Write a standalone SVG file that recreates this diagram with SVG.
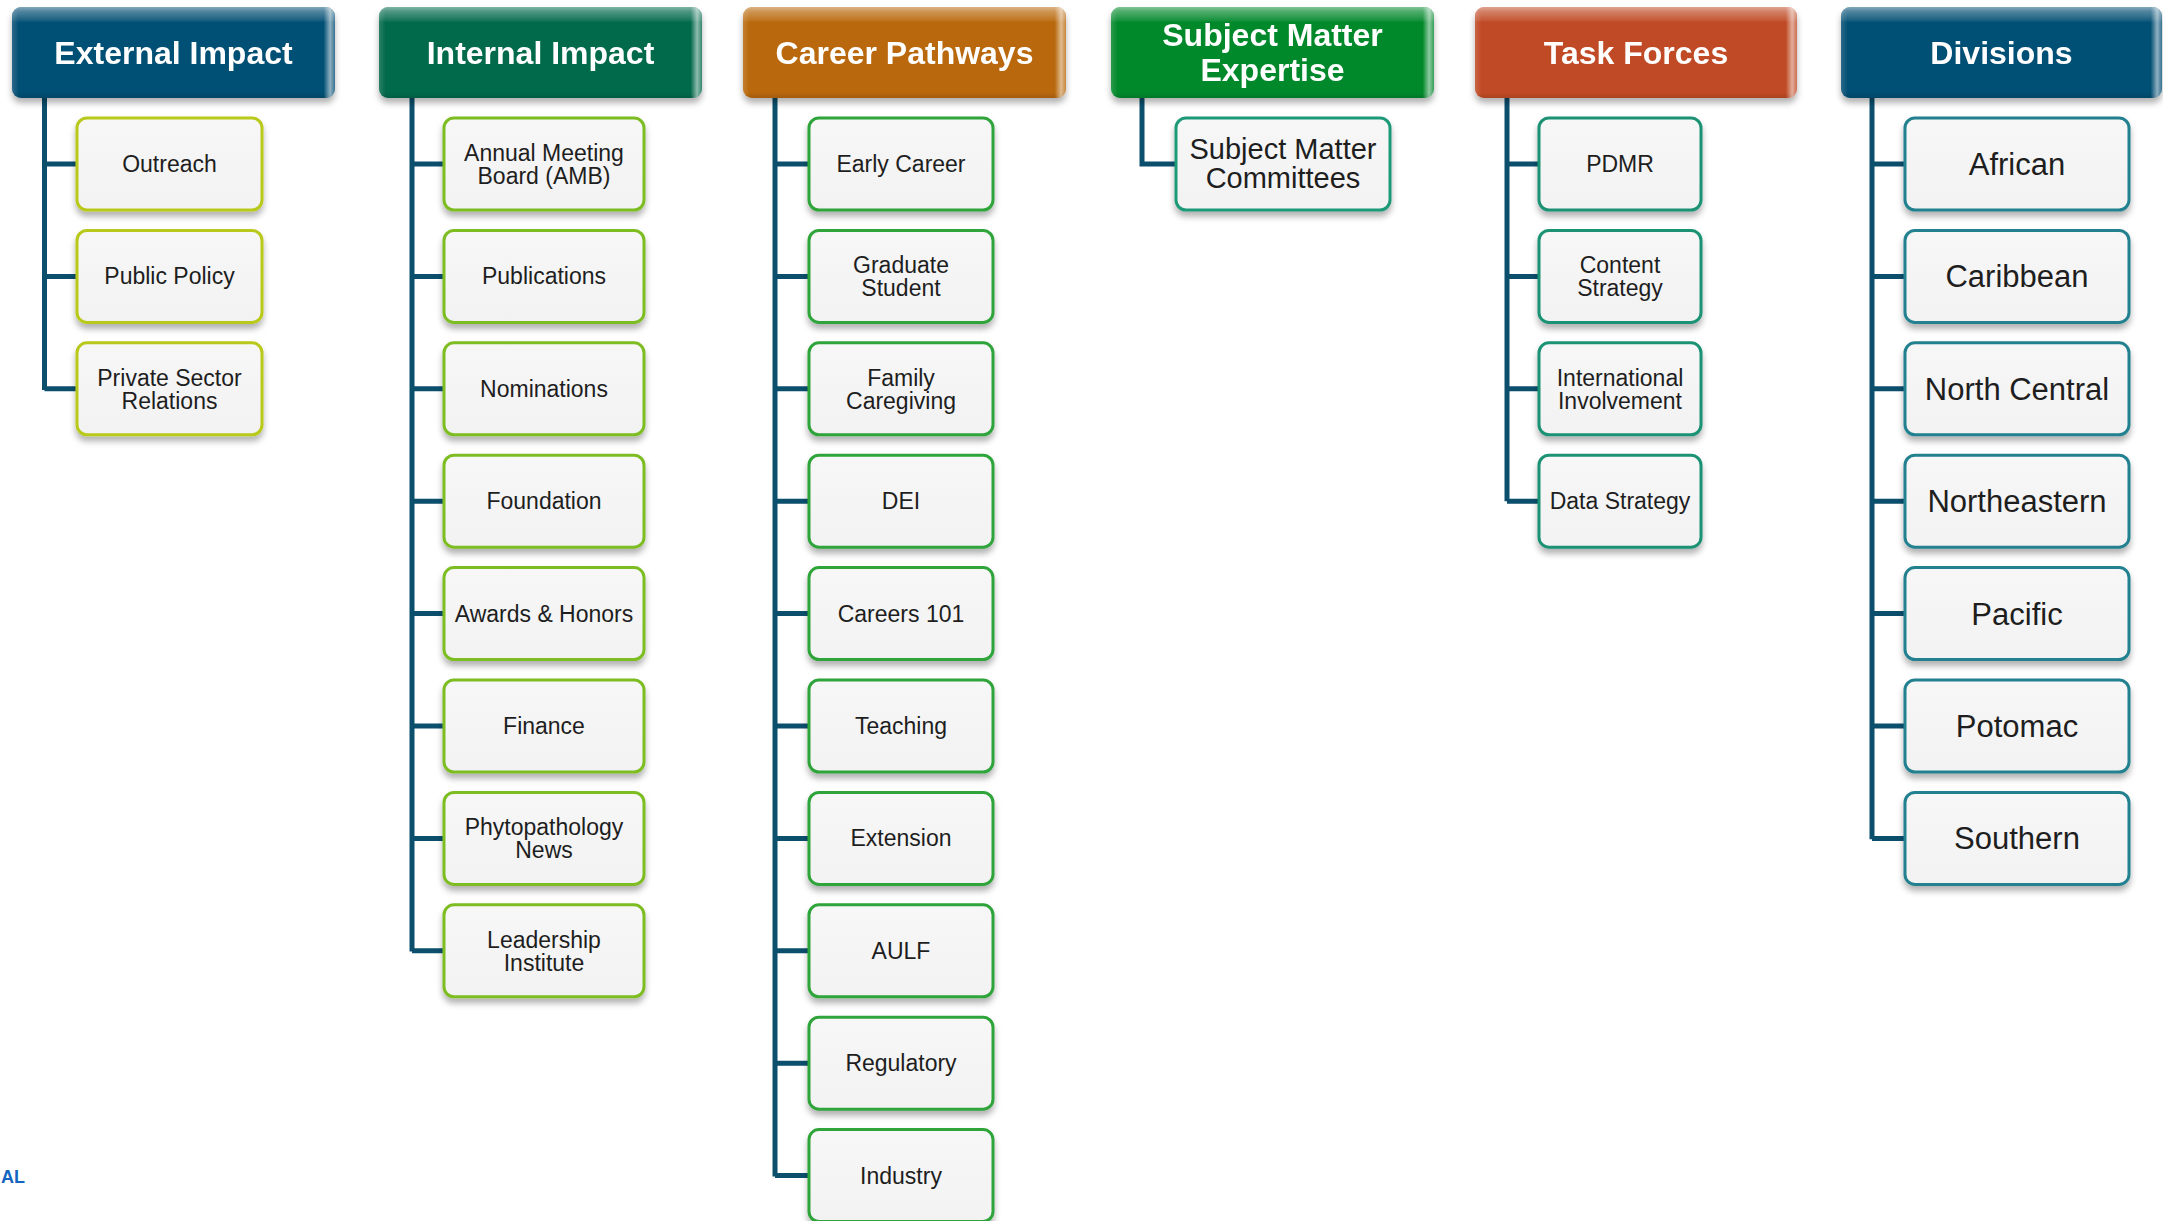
<svg xmlns="http://www.w3.org/2000/svg" width="2163" height="1221" viewBox="0 0 2163 1221">
<defs>
<filter id="sh" x="-10%" y="-10%" width="120%" height="130%">
<feDropShadow dx="0" dy="5" stdDeviation="3" flood-color="#000" flood-opacity="0.3"/>
</filter>
<linearGradient id="glossV" x1="0" y1="0" x2="0" y2="1">
<stop offset="0" stop-color="#fff" stop-opacity="0.5"/>
<stop offset="0.05" stop-color="#fff" stop-opacity="0.3"/>
<stop offset="0.14" stop-color="#fff" stop-opacity="0.1"/>
<stop offset="0.17" stop-color="#fff" stop-opacity="0"/>
<stop offset="0.94" stop-color="#000" stop-opacity="0"/>
<stop offset="1" stop-color="#000" stop-opacity="0.12"/>
</linearGradient>
<linearGradient id="glossH" x1="0" y1="0" x2="1" y2="0">
<stop offset="0" stop-color="#fff" stop-opacity="0.15"/>
<stop offset="0.02" stop-color="#fff" stop-opacity="0"/>
<stop offset="0.965" stop-color="#fff" stop-opacity="0"/>
<stop offset="0.985" stop-color="#fff" stop-opacity="0.55"/>
<stop offset="1" stop-color="#fff" stop-opacity="0.2"/>
</linearGradient>
<linearGradient id="boxFill" x1="0" y1="0" x2="0" y2="1">
<stop offset="0" stop-color="#f7f7f7"/>
<stop offset="1" stop-color="#f2f2f2"/>
</linearGradient>
</defs>
<style>
.hdr{filter:url(#sh)}
.gv{fill:url(#glossV)}
.gh{fill:url(#glossH)}
.ht{font-family:"Liberation Sans",Arial,sans-serif;font-weight:bold;font-size:32px;fill:#fff;text-anchor:middle}
.box{fill:url(#boxFill);stroke-width:3;filter:url(#sh)}
.bt{font-family:"Liberation Sans",Arial,sans-serif;font-size:23px;fill:#1e1e1e;text-anchor:middle}
.bt31{font-size:31px}
.bt29{font-size:29px}
.c1{stroke:#b9c91b}
.c2{stroke:#7dbd24}
.c3{stroke:#2ea43a}
.c4{stroke:#1f9a78}
.c5{stroke:#1c9275}
.c6{stroke:#21808f}
.conn{fill:none;stroke:#0b4f6d;stroke-width:5;stroke-linejoin:miter}
.note{font-family:"Liberation Sans",Arial,sans-serif;font-size:18px;fill:#1565c0;font-weight:bold}
</style>
<rect width="2163" height="1221" fill="#fff"/>

<g id="connectors">
<path class="conn" d="M44.5 98 V390 M44.5 164 H77 M44.5 276.4 H77 M44.5 388.8 H77"/>
<path class="conn" d="M412 98 V951.6 M412 164 H444 M412 276.4 H444 M412 388.8 H444 M412 501.2 H444 M412 613.6 H444 M412 726 H444 M412 838.4 H444 M412 950.8 H444"/>
<path class="conn" d="M775 98 V1176.4 M775 164 H809 M775 276.4 H809 M775 388.8 H809 M775 501.2 H809 M775 613.6 H809 M775 726 H809 M775 838.4 H809 M775 950.8 H809 M775 1063.2 H809 M775 1175.6 H809"/>
<path class="conn" d="M1142 98 V164 H1176"/>
<path class="conn" d="M1507 98 V501.2 M1507 164 H1539 M1507 276.4 H1539 M1507 388.8 H1539 M1507 501.2 H1539"/>
<path class="conn" d="M1872 98 V839.2 M1872 164 H1905 M1872 276.4 H1905 M1872 388.8 H1905 M1872 501.2 H1905 M1872 613.6 H1905 M1872 726 H1905 M1872 838.4 H1905"/>
</g>

<g id="h-external" class="hdr">
<rect x="12" y="7" width="323" height="91" rx="9" fill="#055075"/>
<rect class="gv" x="12" y="7" width="323" height="91" rx="9"/>
<rect class="gh" x="12" y="7" width="323" height="91" rx="9"/>
<text class="ht" x="173.5" y="64">External Impact</text>
</g>
<g id="h-internal" class="hdr">
<rect x="379" y="7" width="323" height="91" rx="9" fill="#036a4b"/>
<rect class="gv" x="379" y="7" width="323" height="91" rx="9"/>
<rect class="gh" x="379" y="7" width="323" height="91" rx="9"/>
<text class="ht" x="540.5" y="64">Internal Impact</text>
</g>
<g id="h-career" class="hdr">
<rect x="743" y="7" width="323" height="91" rx="9" fill="#b9680a"/>
<rect class="gv" x="743" y="7" width="323" height="91" rx="9"/>
<rect class="gh" x="743" y="7" width="323" height="91" rx="9"/>
<text class="ht" x="904.5" y="64">Career Pathways</text>
</g>
<g id="h-sme" class="hdr">
<rect x="1111" y="7" width="323" height="91" rx="9" fill="#03892c"/>
<rect class="gv" x="1111" y="7" width="323" height="91" rx="9"/>
<rect class="gh" x="1111" y="7" width="323" height="91" rx="9"/>
<text class="ht" x="1272.5" y="46">Subject Matter</text>
<text class="ht" x="1272.5" y="81">Expertise</text>
</g>
<g id="h-task" class="hdr">
<rect x="1475" y="7" width="322" height="91" rx="9" fill="#c04a25"/>
<rect class="gv" x="1475" y="7" width="322" height="91" rx="9"/>
<rect class="gh" x="1475" y="7" width="322" height="91" rx="9"/>
<text class="ht" x="1636" y="64">Task Forces</text>
</g>
<g id="h-divisions" class="hdr">
<rect x="1841" y="7" width="321" height="91" rx="9" fill="#055075"/>
<rect class="gv" x="1841" y="7" width="321" height="91" rx="9"/>
<rect class="gh" x="1841" y="7" width="321" height="91" rx="9"/>
<text class="ht" x="2001.5" y="64">Divisions</text>
</g>

<g id="n-outreach"><rect class="box c1" x="77" y="118" width="185" height="92" rx="10"/><text class="bt" x="169.5" y="172">Outreach</text></g>
<g id="n-publicpolicy"><rect class="box c1" x="77" y="230.4" width="185" height="92" rx="10"/><text class="bt" x="169.5" y="284.4">Public Policy</text></g>
<g id="n-privatesector"><rect class="box c1" x="77" y="342.8" width="185" height="92" rx="10"/><text class="bt" x="169.5" y="385.8">Private Sector</text><text class="bt" x="169.5" y="408.8">Relations</text></g>

<g id="n-amb"><rect class="box c2" x="444" y="118" width="200" height="92" rx="10"/><text class="bt" x="544" y="161">Annual Meeting</text><text class="bt" x="544" y="184">Board (AMB)</text></g>
<g id="n-publications"><rect class="box c2" x="444" y="230.4" width="200" height="92" rx="10"/><text class="bt" x="544" y="284.4">Publications</text></g>
<g id="n-nominations"><rect class="box c2" x="444" y="342.8" width="200" height="92" rx="10"/><text class="bt" x="544" y="396.8">Nominations</text></g>
<g id="n-foundation"><rect class="box c2" x="444" y="455.2" width="200" height="92" rx="10"/><text class="bt" x="544" y="509.2">Foundation</text></g>
<g id="n-awards"><rect class="box c2" x="444" y="567.6" width="200" height="92" rx="10"/><text class="bt" x="544" y="621.6">Awards &amp; Honors</text></g>
<g id="n-finance"><rect class="box c2" x="444" y="680" width="200" height="92" rx="10"/><text class="bt" x="544" y="734">Finance</text></g>
<g id="n-phytonews"><rect class="box c2" x="444" y="792.4" width="200" height="92" rx="10"/><text class="bt" x="544" y="835.4">Phytopathology</text><text class="bt" x="544" y="858.4">News</text></g>
<g id="n-leadership"><rect class="box c2" x="444" y="904.8" width="200" height="92" rx="10"/><text class="bt" x="544" y="947.8">Leadership</text><text class="bt" x="544" y="970.8">Institute</text></g>

<g id="n-earlycareer"><rect class="box c3" x="809" y="118" width="184" height="92" rx="10"/><text class="bt" x="901" y="172">Early Career</text></g>
<g id="n-graduate"><rect class="box c3" x="809" y="230.4" width="184" height="92" rx="10"/><text class="bt" x="901" y="273.4">Graduate</text><text class="bt" x="901" y="296.4">Student</text></g>
<g id="n-family"><rect class="box c3" x="809" y="342.8" width="184" height="92" rx="10"/><text class="bt" x="901" y="385.8">Family</text><text class="bt" x="901" y="408.8">Caregiving</text></g>
<g id="n-dei"><rect class="box c3" x="809" y="455.2" width="184" height="92" rx="10"/><text class="bt" x="901" y="509.2">DEI</text></g>
<g id="n-careers101"><rect class="box c3" x="809" y="567.6" width="184" height="92" rx="10"/><text class="bt" x="901" y="621.6">Careers 101</text></g>
<g id="n-teaching"><rect class="box c3" x="809" y="680" width="184" height="92" rx="10"/><text class="bt" x="901" y="734">Teaching</text></g>
<g id="n-extension"><rect class="box c3" x="809" y="792.4" width="184" height="92" rx="10"/><text class="bt" x="901" y="846.4">Extension</text></g>
<g id="n-aulf"><rect class="box c3" x="809" y="904.8" width="184" height="92" rx="10"/><text class="bt" x="901" y="958.8">AULF</text></g>
<g id="n-regulatory"><rect class="box c3" x="809" y="1017.2" width="184" height="92" rx="10"/><text class="bt" x="901" y="1071.2">Regulatory</text></g>
<g id="n-industry"><rect class="box c3" x="809" y="1129.6" width="184" height="92" rx="10"/><text class="bt" x="901" y="1183.6">Industry</text></g>

<g id="n-smc"><rect class="box c4" x="1176" y="118" width="214" height="92" rx="10"/><text class="bt bt29" x="1283" y="159">Subject Matter</text><text class="bt bt29" x="1283" y="188">Committees</text></g>

<g id="n-pdmr"><rect class="box c5" x="1539" y="118" width="162" height="92" rx="10"/><text class="bt" x="1620" y="172">PDMR</text></g>
<g id="n-content"><rect class="box c5" x="1539" y="230.4" width="162" height="92" rx="10"/><text class="bt" x="1620" y="273.4">Content</text><text class="bt" x="1620" y="296.4">Strategy</text></g>
<g id="n-international"><rect class="box c5" x="1539" y="342.8" width="162" height="92" rx="10"/><text class="bt" x="1620" y="385.8">International</text><text class="bt" x="1620" y="408.8">Involvement</text></g>
<g id="n-data"><rect class="box c5" x="1539" y="455.2" width="162" height="92" rx="10"/><text class="bt" x="1620" y="509.2">Data Strategy</text></g>

<g id="n-african"><rect class="box c6" x="1905" y="118" width="224" height="92" rx="10"/><text class="bt bt31" x="2017" y="175">African</text></g>
<g id="n-caribbean"><rect class="box c6" x="1905" y="230.4" width="224" height="92" rx="10"/><text class="bt bt31" x="2017" y="287.4">Caribbean</text></g>
<g id="n-northcentral"><rect class="box c6" x="1905" y="342.8" width="224" height="92" rx="10"/><text class="bt bt31" x="2017" y="399.8">North Central</text></g>
<g id="n-northeastern"><rect class="box c6" x="1905" y="455.2" width="224" height="92" rx="10"/><text class="bt bt31" x="2017" y="512.2">Northeastern</text></g>
<g id="n-pacific"><rect class="box c6" x="1905" y="567.6" width="224" height="92" rx="10"/><text class="bt bt31" x="2017" y="624.6">Pacific</text></g>
<g id="n-potomac"><rect class="box c6" x="1905" y="680" width="224" height="92" rx="10"/><text class="bt bt31" x="2017" y="737">Potomac</text></g>
<g id="n-southern"><rect class="box c6" x="1905" y="792.4" width="224" height="92" rx="10"/><text class="bt bt31" x="2017" y="849.4">Southern</text></g>

<text class="note" x="1" y="1183">AL</text>
</svg>
